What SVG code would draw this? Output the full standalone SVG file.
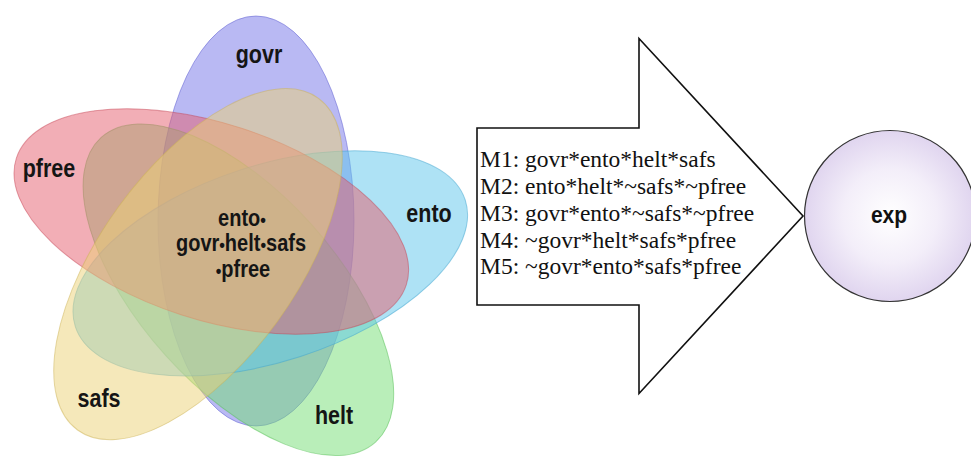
<svg xmlns="http://www.w3.org/2000/svg" width="971" height="461" viewBox="0 0 971 461">
  <style>
    .set { stroke-width: 1; fill-opacity: 0.5; stroke-opacity: 0.5; }
    .lbl { font-family: "Liberation Sans", Arial, sans-serif; font-weight: bold; font-size: 21.5px; fill: #151515; text-anchor: middle; }
    .mid { font-size: 20px; }
    .dot { font-size: 16px; }
    .rule { font-family: "Liberation Serif", "Times New Roman", serif; font-size: 23.5px; fill: #111; }
    .outcome { font-family: "Liberation Sans", Arial, sans-serif; font-weight: bold; font-size: 21px; fill: #111; text-anchor: middle; }
  </style>
  <defs>
    <radialGradient id="expFill" cx="0.5" cy="0.5" r="0.5">
      <stop offset="0" stop-color="#ffffff"/>
      <stop offset="0.55" stop-color="#f3eef9"/>
      <stop offset="1" stop-color="#e0d5ef"/>
    </radialGradient>
  </defs>
  <rect width="971" height="461" fill="#ffffff"/>

  <!-- five-set Venn: one ellipse per condition, turned about the common centre -->
  <g id="venn">
    <g id="set-govr"><ellipse class="set" cx="256" cy="221" rx="98" ry="205" fill="#7373e8" stroke="#5a5ad0"/></g>
    <g id="set-helt"><ellipse class="set" cx="256" cy="221" rx="98" ry="205" fill="#74dd74" stroke="#55c055" transform="rotate(138 234 252)"/></g>
    <g id="set-ento"><ellipse class="set" cx="256" cy="221" rx="98" ry="205" fill="#5ec5ec" stroke="#42a6d0" transform="rotate(72 234 252)"/></g>
    <g id="set-pfree"><ellipse class="set" cx="256" cy="221" rx="98" ry="205" fill="#e65e6e" stroke="#c84656" transform="rotate(-72 234 252)"/></g>
    <g id="set-safs"><ellipse class="set" cx="256" cy="221" rx="98" ry="205" fill="#ecd276" stroke="#cdb355" transform="rotate(-144 234 252)"/></g>
  </g>

  <g id="venn-labels">
    <text class="lbl" transform="translate(259 63) scale(1 1.2)">govr</text>
    <text class="lbl" transform="translate(49 177) scale(1 1.2)">pfree</text>
    <text class="lbl" transform="translate(429 222) scale(1 1.2)">ento</text>
    <text class="lbl" transform="translate(99 407) scale(1 1.2)">safs</text>
    <text class="lbl" transform="translate(334 424) scale(1 1.2)">helt</text>
    <text class="lbl mid" transform="translate(242 226) scale(1 1.2)">ento<tspan class="dot">•</tspan></text>
    <text class="lbl mid" transform="translate(241 251) scale(1 1.2)">govr<tspan class="dot">•</tspan>helt<tspan class="dot">•</tspan>safs</text>
    <text class="lbl mid" transform="translate(243 277) scale(1 1.2)"><tspan class="dot">•</tspan>pfree</text>
  </g>

  <!-- block arrow carrying the solution terms -->
  <g id="arrow">
    <polygon points="477,128 639,128 639,38.5 803,216 639,393.5 639,305 477,305" fill="#ffffff" stroke="#111" stroke-width="1.6" stroke-linejoin="miter"/>
    <text class="rule" x="480" y="166.5">M1: govr*ento*helt*safs</text>
    <text class="rule" x="480" y="193.5">M2: ento*helt*~safs*~pfree</text>
    <text class="rule" x="480" y="220.5">M3: govr*ento*~safs*~pfree</text>
    <text class="rule" x="480" y="247.5">M4: ~govr*helt*safs*pfree</text>
    <text class="rule" x="480" y="274">M5: ~govr*ento*safs*pfree</text>
  </g>

  <g id="exp">
    <circle cx="890" cy="216" r="85.5" fill="url(#expFill)" stroke="#333" stroke-width="1.2"/>
    <text class="outcome" transform="translate(889 223) scale(1 1.1)">exp</text>
  </g>
</svg>
